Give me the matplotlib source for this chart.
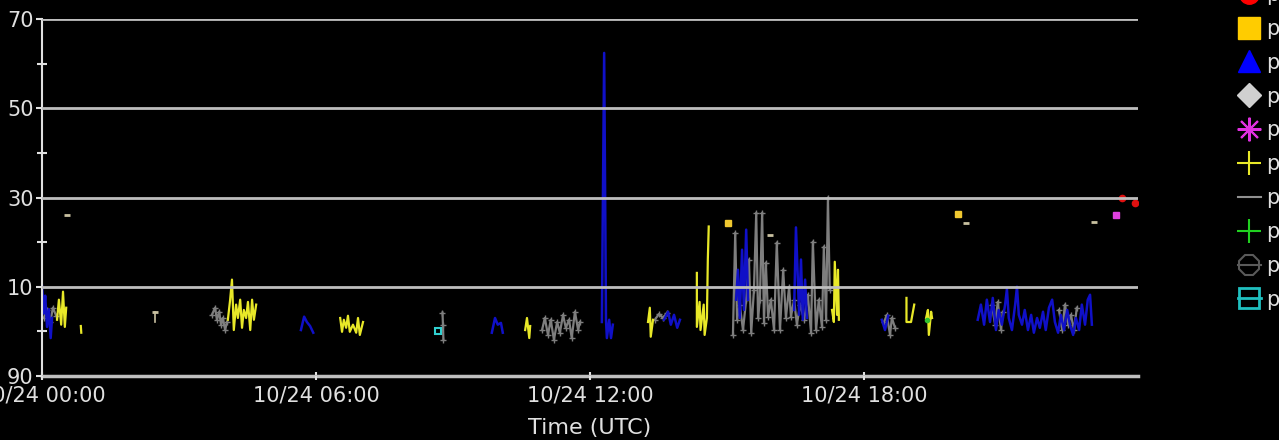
import matplotlib
matplotlib.use("Agg")
import matplotlib.pyplot as plt
import matplotlib.dates as mdates
from matplotlib.lines import Line2D
from matplotlib.ticker import FuncFormatter
import numpy as np
from datetime import datetime

nan = np.nan
day0 = mdates.date2num(datetime(2023, 10, 24))

# hours after 00:00 UTC / values, nan splits a trace into separate runs
blue_hr = [0.00, 0.04, 0.07, 0.11, 0.15, 0.19, 0.22, nan,
           5.67, 5.74, 5.80, 5.87, 5.94, nan,
           9.85, 9.92, 9.98, 10.05, 10.09, nan,
           12.26, 12.31, 12.35, 12.37, 12.42, 12.46, 12.50, nan,
           13.62, 13.71, 13.77, 13.84, 13.91, 13.97, nan,
           15.20, 15.24, 15.28, 15.33, 15.37, 15.42, 15.46, nan,
           16.47, 16.51, 16.58, 16.62, 16.66, 16.71, 16.75, nan,
           18.39, 18.46, 18.53, nan,
           20.49, 20.56, 20.63, 20.69, 20.76, 20.82, 20.89, 20.95, 21.02, 21.09,
           21.13, 21.17, 21.24, 21.31, 21.35, 21.39, 21.46, 21.52, 21.59, 21.66,
           21.72, 21.79, 21.85, 21.92, 21.98, 22.05, 22.12, 22.18, 22.25, 22.31,
           22.38, 22.45, 22.51, 22.58, 22.64, 22.71, 22.77, 22.84, 22.90, 22.95, 22.99]
blue_val = [110.2, 104.0, 108.0, 101.0, 105.0, 98.5, 103.0, nan,
            100.3, 103.3, 102.1, 101.2, 99.7, nan,
            99.7, 103.0, 101.5, 101.9, 99.7, nan,
            102.1, 162.4, 102.6, 98.5, 102.6, 98.5, 101.5, nan,
            102.6, 104.4, 101.5, 103.7, 100.8, 102.6, nan,
            107.1, 113.8, 103.0, 118.3, 104.8, 122.8, 107.1, nan,
            104.8, 123.3, 103.7, 116.1, 102.6, 111.6, 103.0, nan,
            102.6, 100.3, 103.5, nan,
            102.6, 106.0, 101.5, 107.1, 102.1, 107.5, 100.3, 104.8, 101.5, 106.0,
            109.5, 103.0, 100.3, 106.0, 110.0, 103.7, 101.5, 104.8, 100.3, 103.7,
            99.7, 103.0, 100.8, 104.4, 100.3, 105.3, 107.1, 102.1, 99.7, 103.7,
            100.3, 104.8, 101.5, 99.2, 103.0, 100.3, 106.0, 101.5, 107.1, 108.2, 101.5]

yellow_hr = [0.33, 0.37, 0.42, 0.46, 0.50, 0.53, nan,
             0.85, 0.86, nan,
             4.07, 4.12, 4.16, 4.20, 4.25, 4.29, 4.34, 4.38, 4.42, 4.47, 4.51, 4.56, 4.60, 4.64, 4.69, nan,
             6.53, 6.57, 6.61, 6.66, 6.70, 6.74, 6.81, 6.88, 6.92, 6.96, 7.03, nan,
             10.58, 10.62, 10.67, 10.69, nan,
             13.27, 13.31, 13.33, 13.38, nan,
             14.34, 14.34, 14.40, 14.42, 14.49, 14.51, 14.56, 14.58, 14.60, nan,
             17.30, 17.34, 17.36, 17.41, 17.43, 17.45, nan,
             18.93, 18.93, 19.03, 19.10, nan,
             19.36, 19.40, 19.42, 19.47, 19.49]
yellow_val = [102.6, 107.1, 101.5, 108.9, 101.0, 105.3, nan,
              101.2, 99.7, nan,
              102.6, 107.1, 111.6, 100.3, 106.0, 103.0, 107.1, 100.8, 104.8, 103.0, 106.6, 100.3, 107.1, 102.6, 106.0, nan,
              103.0, 99.9, 102.6, 100.8, 103.5, 99.9, 101.5, 99.7, 103.0, 99.2, 102.1, nan,
              100.3, 103.0, 98.5, 101.2, nan,
              102.1, 105.3, 98.8, 102.6, nan,
              113.1, 101.0, 106.6, 100.3, 106.0, 99.2, 103.0, 116.1, 123.5, nan,
              104.8, 102.1, 115.6, 103.7, 113.8, 102.6, nan,
              107.5, 102.1, 102.1, 106.0, nan,
              103.0, 104.8, 99.2, 104.4, 103.0]

gray_hr = [0.04, 0.11, 0.18, 0.24, 0.31, nan,
           3.72, 3.79, 3.83, 3.88, 3.92, 3.96, 4.01, 4.05, nan,
           8.77, 8.78, 8.79, nan,
           10.95, 11.01, 11.08, 11.14, 11.21, 11.28, 11.34, 11.41, 11.47, 11.54, 11.60, 11.67, 11.74, 11.78, nan,
           13.42, 13.51, 13.60, 13.69, nan,
           15.13, 15.18, 15.22, 15.28, 15.35, 15.42, 15.48, 15.53, 15.59, 15.64,
           15.68, 15.72, 15.77, 15.81, 15.85, 15.90, 15.96, 16.03, 16.09, 16.16,
           16.23, 16.29, 16.36, 16.40, 16.47, 16.53, 16.60, 16.69, 16.77, 16.84,
           16.88, 16.95, 17.01, 17.08, 17.12, 17.17, 17.21, 17.25, nan,
           18.44, 18.50, 18.57, 18.61, 18.68, nan,
           20.80, 20.87, 20.93, 21.00, 21.04, nan,
           22.27, 22.34, 22.40, 22.47, 22.53, 22.60, 22.66]
gray_val = [103.0, 104.8, 102.1, 105.3, 103.5, nan,
            103.7, 105.3, 102.6, 104.4, 101.5, 103.0, 100.3, 102.1, nan,
            104.2, 101.5, 98.1, nan,
            100.3, 103.0, 99.2, 102.6, 98.1, 102.1, 99.7, 103.7, 100.8, 102.6, 98.5, 104.4, 100.3, 102.1, nan,
            102.6, 103.9, 103.0, 104.2, nan,
            99.2, 122.1, 102.6, 106.0, 100.3, 107.1, 116.1, 99.7, 109.3, 126.6,
            103.0, 107.1, 126.6, 101.9, 115.4, 103.3, 107.1, 100.3, 119.9, 100.3,
            113.8, 103.0, 110.0, 103.3, 107.1, 101.5, 106.0, 102.6, 108.2, 99.7,
            120.1, 100.3, 107.1, 101.0, 119.0, 102.6, 130.0, 109.3, nan,
            102.1, 103.7, 99.2, 103.0, 100.8, nan,
            106.0, 101.5, 106.6, 100.3, 104.4, nan,
            104.8, 100.3, 106.0, 101.5, 103.7, 100.3, 105.3]

# short light dashes
pale_hr = [0.55, 2.47, 15.94, 20.23, 23.03]
pale_val = [126.0, 104.4, 121.5, 124.2, 124.6]
stub_hr = [2.47, 2.47]
stub_val = [104.4, 102.1]

gold_hr = [15.02, 20.06]
gold_val = [124.2, 126.2]
red_hr = [23.65, 23.93]
red_val = [130.0, 128.7]
magenta_hr = [23.52]
magenta_val = [126.0]
cyan_hr = [8.67]
cyan_val = [100.1]
green_hr = [19.38]
green_val = [102.6]

tick_hr = [0, 6, 12, 18]
legend_names = ["p"] * 10

fg = "#E0E0E0"


def t(hours):
    return day0 + np.asarray(hours, dtype=float) / 24.0


fig = plt.figure(figsize=(12.79, 4.40), dpi=100, facecolor="black")
ax = fig.add_axes([42 / 1279, 1 - 376 / 440, (1138 - 42) / 1279, (376 - 19) / 440])
ax.set_facecolor("black")

ax.plot(t(gray_hr), gray_val, color="#7E7E7E", lw=1.6, marker="+", ms=4, mew=1)
ax.plot(t(blue_hr), blue_val, color="#1010C8", lw=1.8)
ax.plot(t(yellow_hr), yellow_val, color="#E8E828", lw=1.6)
ax.plot(t(stub_hr), stub_val, color="#C8C0A0", lw=1.2)
ax.plot(t(pale_hr), pale_val, ls="none", color="#C8C0A0", marker="_", ms=5, mew=2)
ax.plot(t(gold_hr), gold_val, ls="none", marker="s", ms=5, color="#F0C830")
ax.plot(t(red_hr), red_val, ls="none", marker="o", ms=4.5, color="#E01010")
ax.plot(t(magenta_hr), magenta_val, ls="none", marker="s", ms=5, color="#E040E0")
ax.plot(t(cyan_hr), cyan_val, ls="none", marker="s", ms=5, mfc="none", mec="#30D0D0", mew=1.5)
ax.plot(t(green_hr), green_val, ls="none", marker="o", ms=3, color="#30C030")

ax.set_xlim(day0, day0 + 1)
ax.set_ylim(90, 170)
ax.set_yticks([90, 110, 130, 150, 170])
ax.set_yticks([100, 120, 140, 160], minor=True)
ax.yaxis.set_major_formatter(FuncFormatter(lambda v, pos: f"{int(v) % 100:d}"))
ax.set_xticks(t(tick_hr))
ax.xaxis.set_major_formatter(mdates.DateFormatter("%m/%d %H:%M"))

ax.yaxis.grid(True, which="major", color="#BEBEBE", lw=2)
ax.set_axisbelow(False)

for s in ["top", "right"]:
    ax.spines[s].set_visible(False)
ax.spines["left"].set_color(fg)
ax.spines["left"].set_linewidth(1.5)
ax.spines["bottom"].set_color("#C0C0C0")
ax.spines["bottom"].set_linewidth(2.5)

ax.tick_params(axis="y", which="major", direction="out", length=4.5, width=1.5,
               colors=fg, labelsize=15, pad=1.5)
ax.tick_params(axis="y", which="minor", direction="inout", length=7, width=1.5, colors=fg)
ax.tick_params(axis="x", which="major", direction="inout", length=6, width=1.5,
               colors=fg, labelsize=15, pad=4)
ax.set_xlabel("Time (UTC)", color=fg, fontsize=16, labelpad=8.5)

handles = [
    Line2D([], [], ls="none", marker="o", ms=14, color="#FF0000"),
    Line2D([], [], ls="none", marker="s", ms=16, color="#FFCC00"),
    Line2D([], [], ls="none", marker="^", ms=16, color="#0000FF"),
    Line2D([], [], ls="none", marker="D", ms=12, color="#D0D0D0"),
    Line2D([], [], ls="none", marker=(8, 2, 0), ms=17, mew=1.5, color="#E030E0"),
    Line2D([], [], ls="none", marker="+", ms=17, mew=1.5, color="#E8E828"),
    Line2D([], [], ls="-", lw=1.5, color="#909090"),
    Line2D([], [], ls="none", marker="+", ms=17, mew=1.5, color="#20D020"),
    Line2D([], [], ls="-", lw=1.5, marker="8", ms=15, mfc="none", mew=1.5, color="#5A5A5A"),
    Line2D([], [], ls="-", lw=2, marker="s", ms=15, mfc="none", mew=2, color="#20C0C0"),
]
fig.legend(handles, legend_names, loc="upper left", bbox_to_anchor=(1238 / 1279, 1 + 15 / 440),
           frameon=False, borderpad=0, borderaxespad=0, handlelength=1.1, handletextpad=0.25,
           labelspacing=0.665, fontsize=15, labelcolor=fg)

fig.savefig("out.png", dpi=100, facecolor="black")
